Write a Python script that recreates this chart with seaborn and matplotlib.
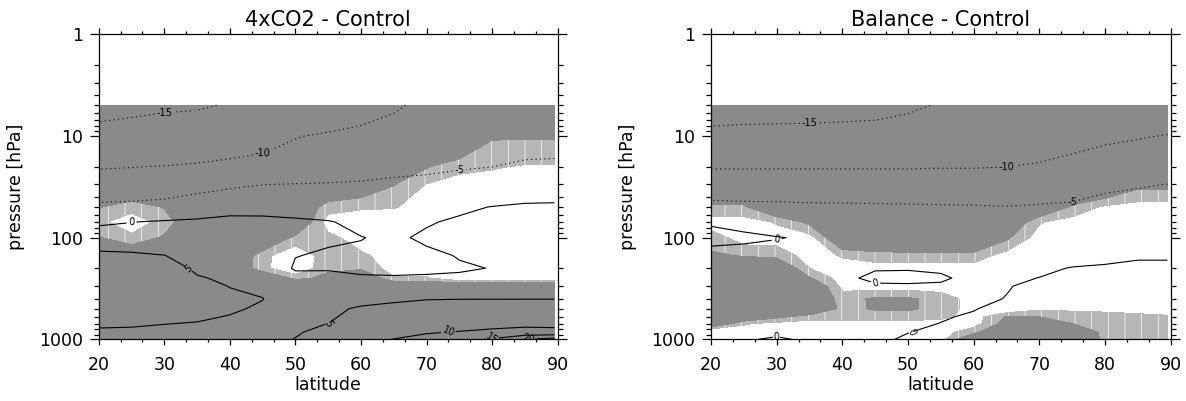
import numpy as np
import matplotlib
matplotlib.use("Agg")
import matplotlib.pyplot as plt
from matplotlib.ticker import FixedLocator, FixedFormatter, AutoMinorLocator, LogLocator, NullFormatter
import seaborn as sns

# grid of the zonal-mean fields
LAT = [20, 25, 30, 35, 40, 45, 50, 55, 60, 65, 70, 75, 80, 85, 89.5]
PRES = [1000, 850, 700, 600, 500, 400, 300, 250, 200, 150, 100, 70, 50, 30, 20, 10, 5]

# temperature difference [K], rows follow PRES, columns follow LAT
T_4XCO2 = [
    [4.2, 4.1, 4.0, 3.8, 3.6, 3.8, 5.1, 6.8, 8.3, 10.1, 11.5, 13.5, 15.5, 19.8, 22.0],
    [4.8, 4.7, 4.5, 4.3, 4.0, 4.0, 4.7, 5.9, 7.2, 8.4, 9.6, 10.2, 10.8, 11.5, 11.2],
    [5.2, 5.2, 5.05, 4.9, 4.5, 4.3, 4.4, 5.02, 6.2, 7.2, 7.8, 8.2, 8.8, 9.0, 9.0],
    [5.45, 5.55, 5.5, 5.3, 4.9, 4.5, 4.2, 4.66, 5.8, 6.45, 6.9, 7.2, 7.6, 7.75, 7.75],
    [5.7, 5.9, 6.0, 5.7, 5.3, 4.7, 4.0, 4.3, 5.4, 5.7, 6.0, 6.2, 6.4, 6.5, 6.5],
    [6.0, 6.2, 6.3, 5.9, 5.4, 5.05, 3.6, 3.7, 4.0, 4.6, 4.9, 4.95, 4.95, 4.95, 4.95],
    [6.3, 6.5, 6.6, 5.6, 4.95, 4.6, 2.8, 2.5, 2.0, 2.3, 2.5, 2.8, 3.2, 3.2, 3.2],
    [6.5, 6.7, 6.6, 5.2, 4.6, 4.2, 1.5, 1.0, 0.3, 0.2, 0.4, 0.6, 1.8, 2.3, 2.4],
    [6.5, 6.6, 6.2, 4.6, 4.1, 3.7, -0.5, -0.3, -0.5, -0.5, -0.6, -0.4, 0.1, 1.8, 1.9],
    [6.0, 5.6, 5.05, 4.0, 3.6, 3.2, 0.1, -0.4, -0.6, -0.7, -0.8, 0.2, 0.6, 2.0, 2.1],
    [2.5, 2.8, 3.3, 2.9, 2.8, 2.4, 0.8, 0.4, 0.1, -0.6, 0.6, 0.8, 1.6, 2.0, 2.1],
    [-0.7, -0.1, 0.4, 0.8, 1.3, 1.0, 0.6, 0.2, -0.8, -1.5, -0.3, 0.5, 1.0, 1.5, 1.6],
    [-4.0, -3.8, -3.6, -2.8, -1.6, -1.3, -1.5, -1.8, -2.5, -2.8, -2.1, -0.6, 0.1, 0.5, 0.6],
    [-8.0, -7.8, -7.0, -6.2, -5.6, -5.05, -4.88, -4.78, -4.58, -4.06, -3.8, -3.0, -2.8, -2.0, -2.0],
    [-10.3, -10.1, -9.9, -9.5, -8.9, -8.2, -7.3, -6.8, -6.5, -6.2, -5.8, -5.4, -5.05, -4.4, -4.3],
    [-13.8, -13.7, -13.2, -12.8, -12.3, -11.7, -10.2, -9.5, -8.7, -8.4, -7.8, -7.2, -6.8, -6.5, -6.4],
    [-16.0, -15.6, -15.4, -15.3, -14.8, -13.8, -13.2, -12.6, -11.8, -10.4, -9.3, -8.5, -8.0, -7.7, -7.6],
]

T_BALANCE = [
    [-0.3, -0.2, 0.25, -0.3, -0.4, -0.3, 0.2, 0.5, 0.7, 0.8, 0.9, 1.0, 1.0, 1.0, 1.1],
    [-0.4, -0.4, -0.4, -0.5, -0.5, -0.5, -0.03, 0.3, 0.5, 0.6, 0.7, 0.7, 0.7, 0.7, 0.7],
    [-0.5, -0.5, -0.6, -0.6, -0.6, -0.6, -0.2, 0.02, 0.3, 0.5, 0.6, 0.6, 0.6, 0.6, 0.6],
    [-0.5, -0.55, -0.65, -0.65, -0.65, -0.6, -0.3, -0.09, 0.12, 0.4, 0.55, 0.55, 0.55, 0.55, 0.55],
    [-0.5, -0.6, -0.7, -0.7, -0.7, -0.6, -0.4, -0.2, -0.05, 0.3, 0.5, 0.5, 0.5, 0.5, 0.5],
    [-0.6, -0.7, -0.8, -0.8, -0.7, -0.5, -0.4, -0.3, -0.2, 0.03, 0.4, 0.4, 0.4, 0.4, 0.4],
    [-0.7, -0.8, -0.9, -0.9, -0.5, -0.2, -0.2, -0.2, -0.35, -0.05, 0.2, 0.3, 0.3, 0.35, 0.35],
    [-0.8, -0.9, -1.0, -1.0, -0.3, 0.3, 0.4, 0.2, -0.4, -0.2, 0.02, 0.2, 0.25, 0.3, 0.3],
    [-0.9, -1.0, -1.1, -1.0, -0.2, -0.1, -0.1, -0.2, -0.4, -0.4, -0.2, 0.05, 0.1, 0.2, 0.2],
    [-0.8, -0.9, -1.0, -0.9, -0.5, -0.6, -0.6, -0.7, -0.7, -0.7, -0.5, -0.4, -0.2, -0.1, -0.1],
    [0.6, 0.4, 0.1, -0.25, -0.8, -1.0, -1.1, -1.2, -1.3, -1.3, -1.1, -0.9, -0.7, -0.6, -0.5],
    [-0.2, -0.6, -1.2, -1.8, -2.0, -2.2, -2.3, -2.4, -2.6, -2.6, -2.4, -2.0, -1.8, -1.6, -1.5],
    [-3.6, -3.8, -4.0, -4.2, -4.3, -4.4, -4.5, -4.6, -4.7, -4.9, -4.6, -4.3, -3.6, -3.2, -3.0],
    [-7.6, -7.7, -7.6, -7.6, -7.6, -7.6, -7.6, -7.6, -7.6, -7.5, -7.2, -6.8, -5.7, -5.3, -4.95],
    [-10.3, -10.3, -10.3, -10.3, -10.3, -10.3, -10.3, -10.2, -10.2, -10.05, -9.6, -9.0, -8.3, -7.8, -7.5],
    [-14.0, -13.9, -13.9, -13.9, -13.8, -13.8, -13.5, -13.2, -12.6, -12.1, -11.8, -11.0, -10.5, -10.2, -9.9],
    [-16.5, -16.3, -16.2, -16.1, -16.0, -15.8, -15.4, -14.8, -14.3, -13.6, -13.0, -12.3, -11.8, -11.6, -11.5],
]

# significance score: < 0.5 not significant, 0.5-1.5 weak, > 1.5 strong
SIG_4XCO2 = [
    [3] * 15,
    [3] * 15,
    [3] * 15,
    [3] * 15,
    [3] * 15,
    [3] * 15,
    [3] * 15,
    [3, 3, 3, 3, 3, 3, 1.2, 1.8, 3, 0.6, 0.6, -0.5, -0.5, -0.5, -0.5],
    [3, 3, 3, 3, 3, 0.8, -0.5, 1.3, 1.3, 0, 0, 0, 0, 0, 0],
    [3, 3, 3, 3, 3, 0.9, -0.5, 1.2, 0.7, 0, 0, 0, 0, 0, 0],
    [1.6, 0.7, 1.7, 3, 3, 3, 1.2, 0.8, 0, 0, 0, 0, 0, 0, 0],
    [0.7, 0, 0.8, 3, 3, 3, 3, 0, 0, 0, 0, 0, 0, 0, 0],
    [1.6, 0.8, 1.6, 3, 3, 3, 3, 0.9, 0.6, 0.55, 0.2, 0, 0, 0, 0],
    [3, 3, 3, 3, 3, 3, 3, 3, 2.5, 1.55, 0.45, 0, 0, 0, 0],
    [3, 3, 3, 3, 3, 3, 3, 3, 3, 3, 1.6, 0.8, 0.6, 0.4, 0.4],
    [3, 3, 3, 3, 3, 3, 3, 3, 3, 3, 3, 3, 1.6, 1.6, 1.6],
    [3] * 15,
]

SIG_BALANCE = [
    [0, 0, 0, 0, 0, 0, 0, 0, 3, 3, 3, 3, 1.2, 1.2, 1.2],
    [-1, 0, 0, 0, 0, 0, 0, 0, 1.2, 3, 3, 3, 1.1, 1.1, 1.1],
    [3, 0.6, 0.2, 0, 0, 0, 0, 0, 0, 2, 2, 1.5, 1.0, 1.0, 1.0],
    [3, 3, 1.8, 1.0, 1.0, 1.1, 1.1, 0.8, 0, 1.6, 1.5, 1.0, 0.8, 0.7, 0.6],
    [3, 3, 3, 3, 1.2, 1.6, 1.65, 1.2, 0, -0.5, 0.3, 0.3, 0.3, 0.2, 0.1],
    [3, 3, 3, 3, 1.0, 1.7, 1.7, 1.1, 0, 0, 0, 0, 0, 0, 0],
    [3, 3, 3, 3, 0.2, 0, 0, 0, 0, 0, 0, 0, 0, 0, 0],
    [3, 3, 3, 1.6, 0, 0, 0, 0, 0, 0, 0, 0, 0, 0, 0],
    [3, 3, 3, 0.5, 0, 0, 0, 0, 0, 0, 0, 0, 0, 0, 0],
    [1.7, 1.4, 1.2, 0, 0.6, 1.0, 1.1, 1.1, 1.1, 0, 0, 0, 0, 0, 0],
    [1.0, 0, 0, 0, 3, 3, 3, 3, 3, 1.7, 0, 0, 0, 0, 0],
    [0, 0, 0.6, 1.8, 3, 3, 3, 3, 3, 3, 0.6, 0, 0, 0, 0],
    [1.2, 1.3, 3, 3, 3, 3, 3, 3, 3, 3, 3, 1.3, 0.3, 0, 0],
    [3, 3, 3, 3, 3, 3, 3, 3, 3, 3, 3, 3, 3, 1.8, 1.8],
    [3] * 15,
    [3] * 15,
    [3] * 15,
]

TITLES = ["4xCO2 - Control", "Balance - Control"]
CONTOUR_LEVELS = [-15, -10, -5, 0, 5, 10, 15, 20]
SIG_LEVELS = [0.5, 1.5, 4.0]
XTICKS = [20, 30, 40, 50, 60, 70, 80, 90]
YTICKS = [1, 10, 100, 1000]
YTICKLABELS = ["1", "10", "100", "1000"]

DARK = "#8a8a8a"
LIGHT = "#b6b6b6"

sns.set_theme(style="ticks", rc={
    "axes.edgecolor": "black", "axes.linewidth": 0.9,
    "xtick.color": "black", "ytick.color": "black",
    "text.color": "black", "axes.labelcolor": "black",
    "hatch.color": "#c8c8c8", "hatch.linewidth": 0.5,
})
plt.rcParams["font.family"] = ["DejaVu Sans"]


def draw_panel(ax, temp, sig, title):
    lat = np.array(LAT)
    p = np.array(PRES)
    ax.contourf(lat, p, np.array(sig), levels=SIG_LEVELS,
                colors=[LIGHT, DARK], hatches=["|", None])
    styles = [(0, (1, 3)) if lv < 0 else "solid" for lv in CONTOUR_LEVELS]
    cs = ax.contour(lat, p, np.array(temp), levels=CONTOUR_LEVELS,
                    colors="black", linewidths=0.8, linestyles=styles)
    ax.clabel(cs, fmt="%d", fontsize=7, inline=True, inline_spacing=2)

    ax.set_yscale("log")
    ax.set_xlim(20, 90)
    ax.set_ylim(1000, 1)
    ax.xaxis.set_major_locator(FixedLocator(XTICKS))
    ax.xaxis.set_minor_locator(AutoMinorLocator(3))
    ax.yaxis.set_major_locator(FixedLocator(YTICKS))
    ax.yaxis.set_major_formatter(FixedFormatter(YTICKLABELS))
    ax.yaxis.set_minor_locator(LogLocator(base=10, subs=np.arange(2, 10)))
    ax.yaxis.set_minor_formatter(NullFormatter())

    ax.tick_params(axis="x", which="both", direction="out", top=True, bottom=True,
                   labelsize=12.5, pad=8, width=0.9)
    ax.tick_params(axis="x", which="major", length=4)
    ax.tick_params(axis="x", which="minor", length=2.4)
    ax.tick_params(axis="y", which="both", direction="out", left=True, right=True,
                   labelsize=12.5, pad=5, width=0.9)
    ax.tick_params(axis="y", which="major", length=6.5)
    ax.tick_params(axis="y", which="minor", length=3.5)

    ax.set_title(title, fontsize=15, pad=6)
    ax.set_xlabel("latitude", fontsize=12.5)
    ax.set_ylabel("pressure [hPa]", fontsize=12.5)
    ax.xaxis.set_label_coords(0.5, -0.12)
    ax.yaxis.set_label_coords(-0.16, 0.5)
    for side in ax.spines.values():
        side.set_visible(True)


fig = plt.figure(figsize=(11.86, 4.01), dpi=100)
ax1 = fig.add_axes([0.0832, 0.1539, 0.387, 0.7606])
ax2 = fig.add_axes([0.5995, 0.1539, 0.3876, 0.7606])

draw_panel(ax1, T_4XCO2, SIG_4XCO2, TITLES[0])
draw_panel(ax2, T_BALANCE, SIG_BALANCE, TITLES[1])

fig.savefig("out.png", dpi=100, facecolor="white")
